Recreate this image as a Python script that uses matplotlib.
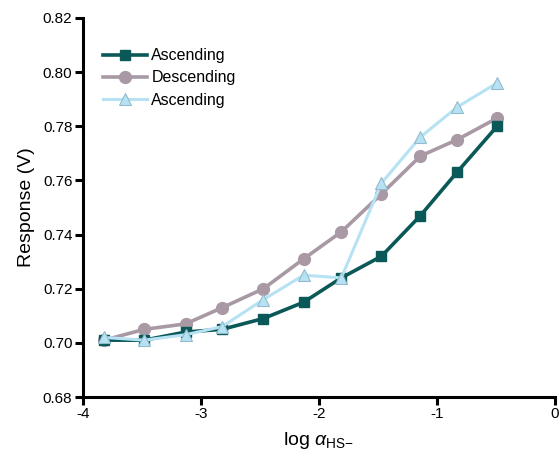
import matplotlib
matplotlib.use("Agg")
import matplotlib.pyplot as plt

plt.rcParams['font.family'] = ['Liberation Sans', 'DejaVu Sans']
plt.rcParams['mathtext.fontset'] = 'custom'
plt.rcParams['mathtext.rm'] = 'Liberation Sans'
plt.rcParams['mathtext.it'] = 'Liberation Sans:italic'
plt.rcParams['axes.unicode_minus'] = False

log_alpha = [-3.82, -3.48, -3.13, -2.82, -2.47, -2.13, -1.81, -1.47, -1.14, -0.83, -0.49]
asc1 = [0.701, 0.701, 0.704, 0.705, 0.709, 0.715, 0.724, 0.732, 0.747, 0.763, 0.780]
desc = [0.701, 0.705, 0.707, 0.713, 0.720, 0.731, 0.741, 0.755, 0.769, 0.775, 0.783]
asc2 = [0.702, 0.701, 0.703, 0.706, 0.716, 0.725, 0.724, 0.759, 0.776, 0.787, 0.796]

x_ticks = [-4, -3, -2, -1, 0]
y_ticks = [0.68, 0.70, 0.72, 0.74, 0.76, 0.78, 0.80, 0.82]

fig = plt.figure(figsize=(5.6, 4.59), dpi=100)
ax = fig.add_axes([0.148, 0.135, 0.843, 0.826])

ax.plot(log_alpha, asc1, color='#0b5858', lw=2.6, marker='s', ms=7,
        mfc='#0b5858', mec='#0b5858', label='Ascending', zorder=3)
ax.plot(log_alpha, desc, color='#a899a5', lw=2.6, marker='o', ms=8.5,
        mfc='#a899a5', mec='#a899a5', label='Descending', zorder=2)
ax.plot(log_alpha, asc2, color='#b6e2f4', lw=2.2, marker='^', ms=9,
        mfc='#b6e2f4', mec='#92bccd', mew=0.8, label='Ascending', zorder=4)

ax.set_xlim(-4, 0)
ax.set_ylim(0.68, 0.82)
ax.set_xticks(x_ticks)
ax.set_yticks(y_ticks)
ax.set_xticklabels([str(t) for t in x_ticks])
ax.set_yticklabels([f"{t:.2f}" for t in y_ticks])

for s in ('top', 'right'):
    ax.spines[s].set_visible(False)
for s in ('left', 'bottom'):
    ax.spines[s].set_linewidth(2.2)
ax.tick_params(direction='out', length=6, width=2.2, labelsize=11, pad=1.5)

ax.set_ylabel('Response (V)', fontsize=14, labelpad=6)
ax.set_xlabel(r'log $\mathit{\alpha}_{\mathrm{HS\!-}}$', fontsize=14, labelpad=6)

ax.legend(loc='upper left', bbox_to_anchor=(0.03, 0.937), frameon=False,
          fontsize=11.5, handlelength=2.7, handletextpad=0.3, labelspacing=0.45,
          borderaxespad=0)

fig.savefig('out.png', dpi=100)
